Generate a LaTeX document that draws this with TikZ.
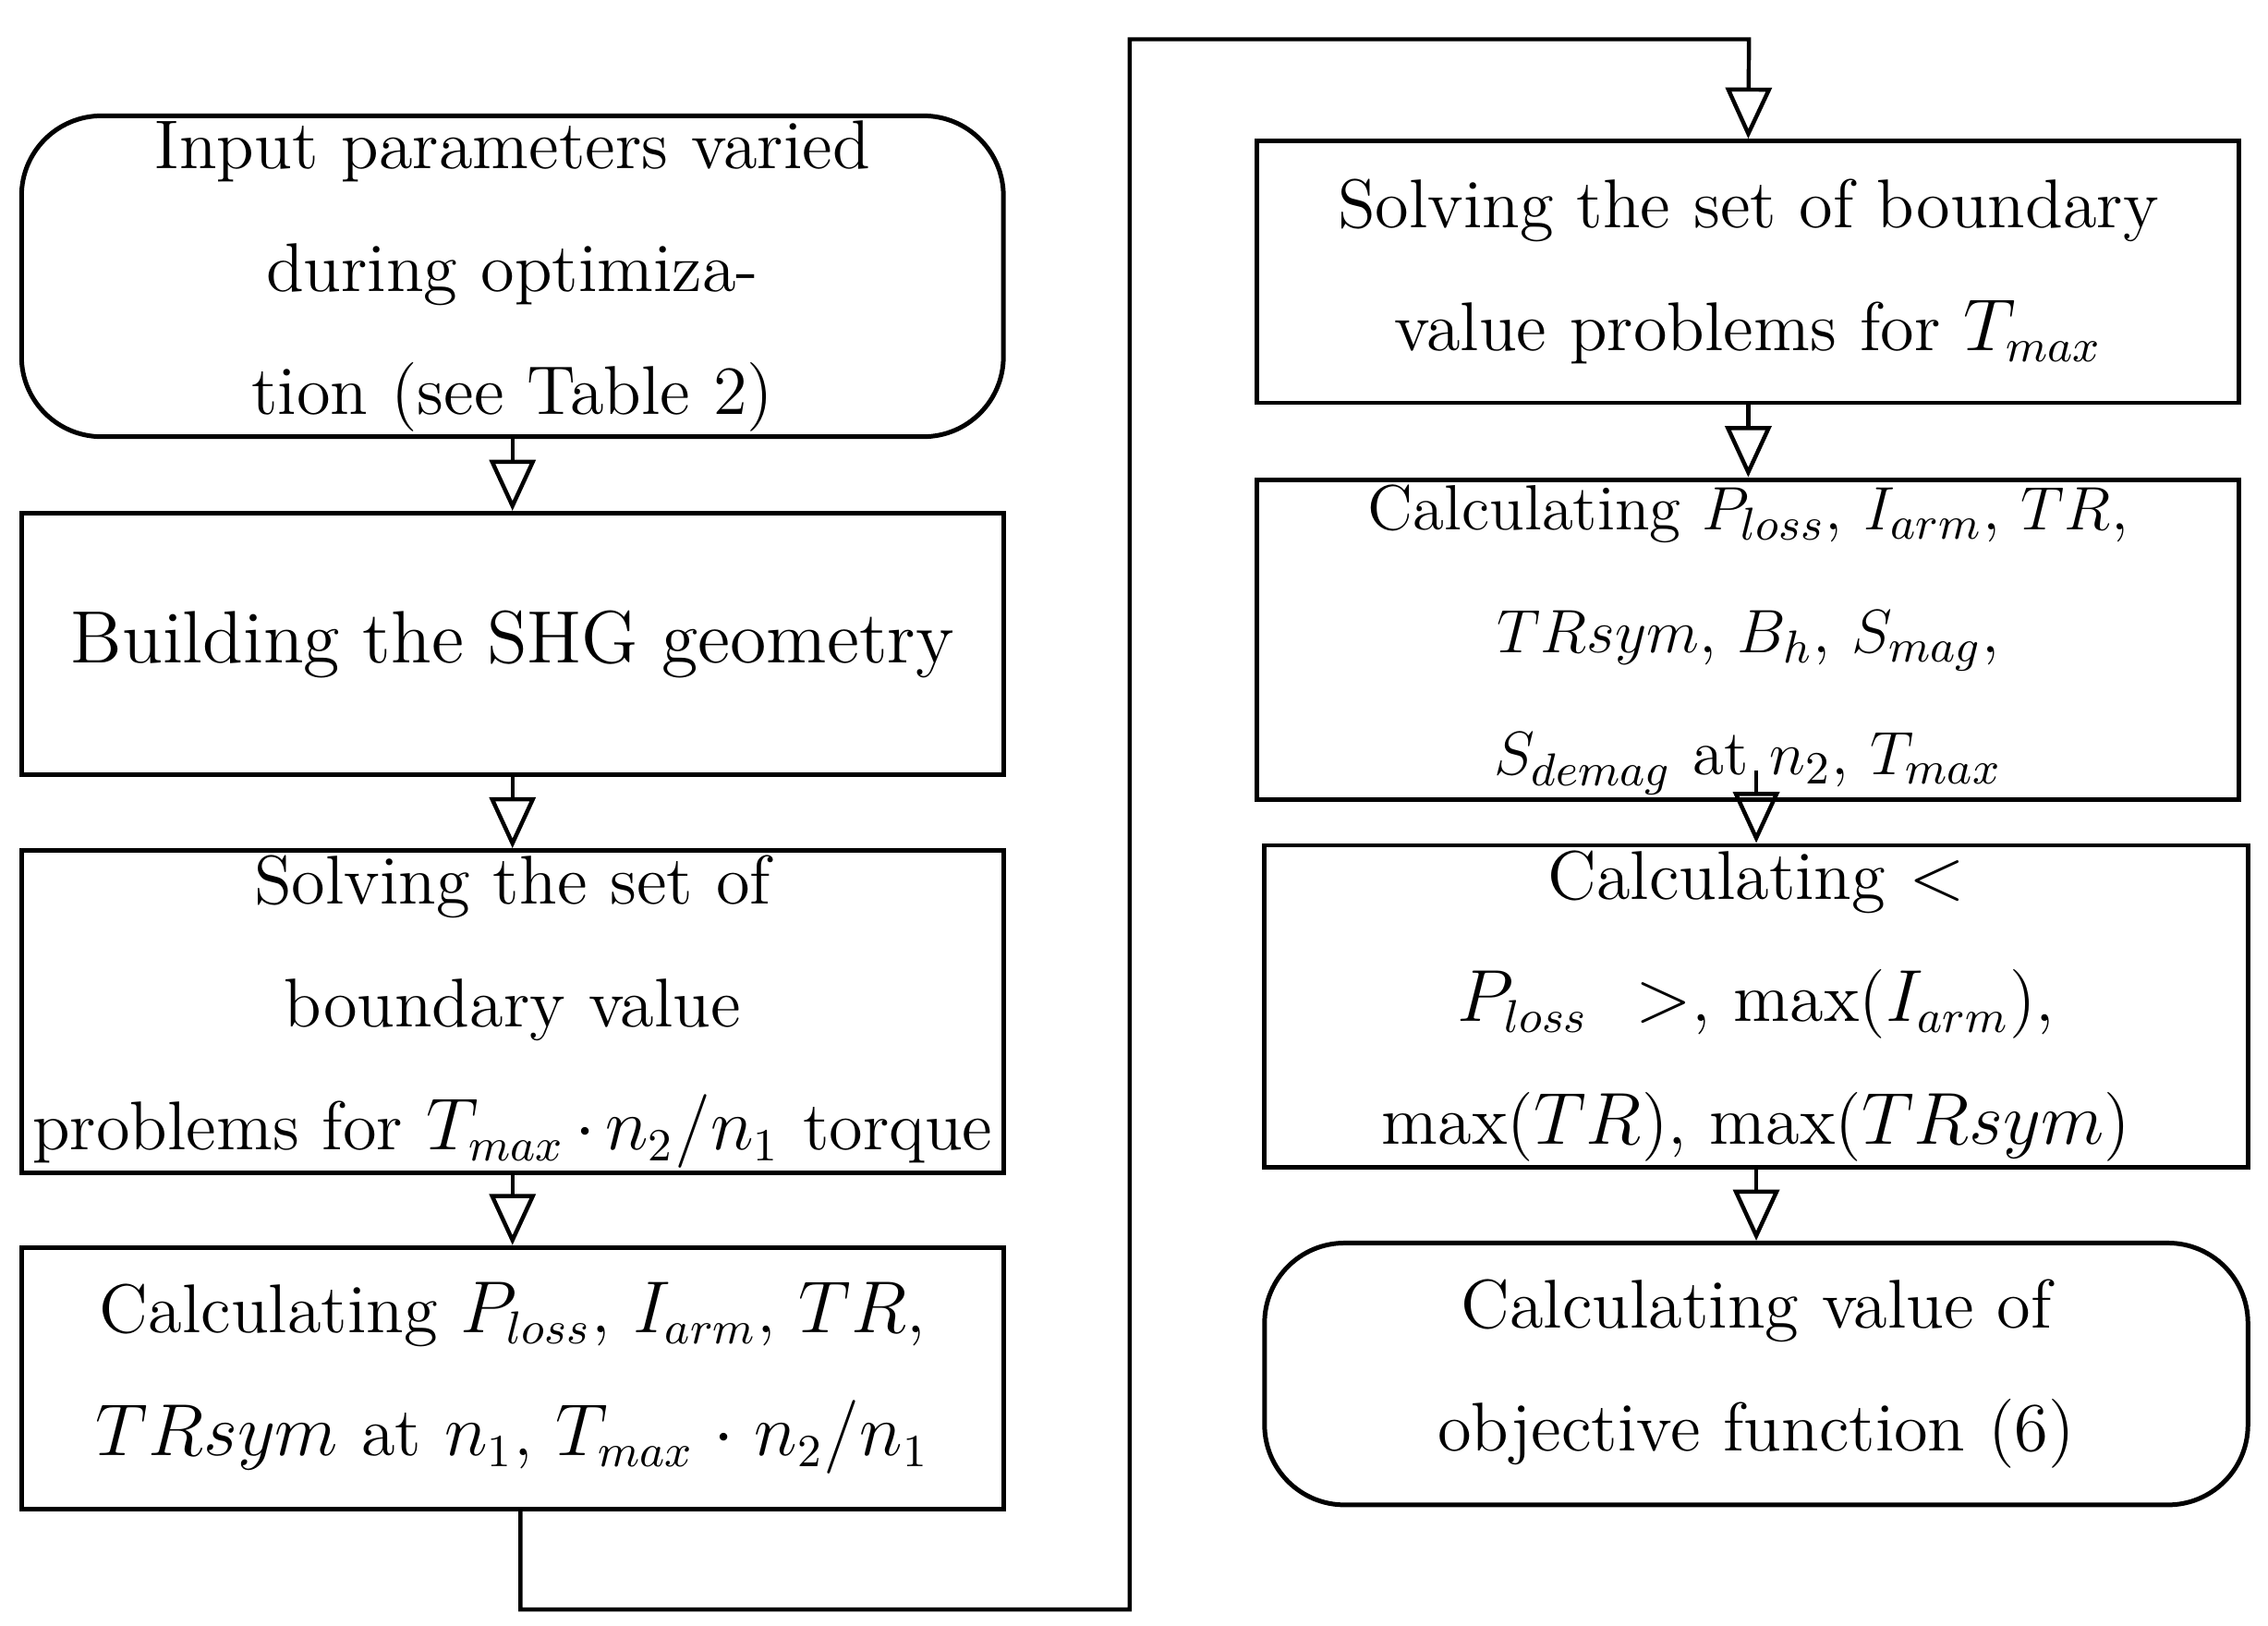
\documentclass[tikz,border=0pt]{standalone}
\usetikzlibrary{arrows.meta}
\begin{document}
\begin{tikzpicture}[x=0.01cm,y=-0.01cm,
  box/.style={draw,line width=0.9pt,minimum width=6.75cm,minimum height=1.8cm,text width=6.6cm,align=center,inner sep=1pt,
    font=\fontsize{13.5}{24}\selectfont},
  rbox/.style={box,rounded corners=0.55cm},
  arr/.style={line width=0.8pt,-{Triangle[open,length=10pt,width=9pt]}}]
\useasboundingbox (0,0) rectangle (1560,1118);
\node[rbox] (a) at (352.5,190) {Input parameters varied\\during optimization (see Table 2)};
\node[box] (b) at (352.5,443) {\fontsize{14.5}{20}\selectfont Building the SHG geometry};
\node[box] (c) at (352.5,696) {Solving the set of boundary value\\problems for $T_{max}\cdot n_2/n_1$ torque};
\node[box] (d) at (352.5,948) {Calculating $P_{loss}$, $I_{arm}$, $TR$,\\$TRsym$ at $n_1$, $T_{max}\cdot n_2/n_1$};
\node[box] (e) at (1202.5,187) {Solving the set of boundary\\value problems for $T_{max}$};
\node[box,font=\fontsize{12.5}{24}\selectfont] (f) at (1202.5,440) {Calculating $P_{loss}$, $I_{arm}$, $TR$,\\$TRsym$, $B_h$, $S_{mag}$, $S_{demag}$ at $n_2$, $T_{max}$};
\node[box,minimum width=6.76cm] (g) at (1208,692) {Calculating $<P_{loss}>$, max($I_{arm}$),\\max($TR$), max($TRsym$)};
\node[rbox,minimum width=6.76cm] (h) at (1208,945) {Calculating value of\\objective function (6)};
\draw[arr] (a) -- (b);
\draw[arr] (b) -- (c);
\draw[arr] (c) -- (d);
\draw[arr] (e) -- (f);
\draw[arr] (1208,530) -- (g);
\draw[arr] (g) -- (h);
\coordinate (p1) at (358,1107);
\coordinate (p2) at (777,1107);
\coordinate (p3) at (777,27);
\coordinate (p4) at (1203,27);
\draw[arr] (358,1038) -- (p1) -- (p2) -- (p3) -- (p4) -- (e.north);
\end{tikzpicture}
\end{document}
